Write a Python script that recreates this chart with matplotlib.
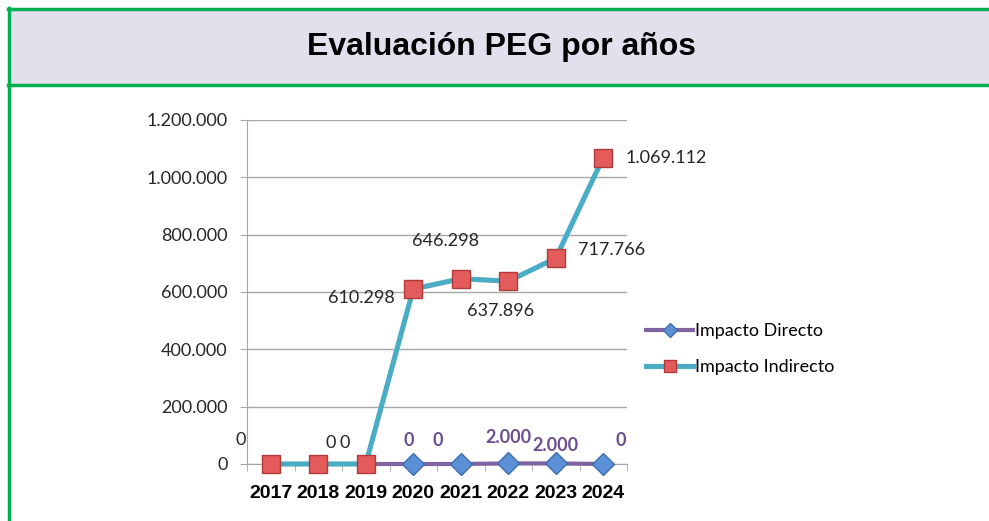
import matplotlib
matplotlib.use('Agg')
from matplotlib import pyplot as plt
from matplotlib.patches import Rectangle
from matplotlib.lines import Line2D

# data
years = ['2017', '2018', '2019', '2020', '2021', '2022', '2023', '2024']
directo_years = [2, 3, 4, 5, 6, 7]       # 2019 point sits under the red square
directo = [0, 0, 0, 2000, 2000, 0]
indirecto = [0, 0, 0, 610298, 646298, 637896, 717766, 1069112]
indirecto_labels = ['0', '0', '0', '610.298', '646.298', '637.896', '717.766', '1.069.112']
directo_labels = ['0', '0', '2.000', '2.000', '0']
yticks = [0, 200000, 400000, 600000, 800000, 1000000, 1200000]
ytick_labels = ['0', '200.000', '400.000', '600.000', '800.000', '1.000.000', '1.200.000']

W, H = 989, 521
fig = plt.figure(figsize=(W / 100, H / 100), dpi=100)

# title band and green frame
green = '#00B050'
fig.patches.append(Rectangle((8 / W, 1 - 85 / H), 1, 77 / H, transform=fig.transFigure,
                             facecolor='#E4DFEC', edgecolor='none'))
fig.add_artist(Line2D([8 / W, 1], [1 - 9 / H, 1 - 9 / H], color=green, lw=2.5))
fig.add_artist(Line2D([8 / W, 1], [1 - 85 / H, 1 - 85 / H], color=green, lw=2.5))
fig.add_artist(Line2D([9 / W, 9 / W], [0, 1 - 8 / H], color=green, lw=2.5))
fig.text(502 / W, 1 - 47 / H, 'Evaluación PEG por años', ha='center', va='center',
         fontsize=23, fontweight='bold', family='Liberation Sans')

ax = fig.add_axes([247 / W, 1 - 464 / H, 380 / W, 344 / H])
ax.set_xlim(-0.5, 7.5)
ax.set_ylim(0, 1200000)

x_all = list(range(len(years)))
ax.plot(directo_years, directo, color='#8064A2', lw=3, marker='D', ms=11.5,
        markevery=list(range(1, len(directo))),
        markerfacecolor='#5B8FD6', markeredgecolor='#3E6FB0', mew=1, zorder=3,
        clip_on=False, label='Impacto Directo')
ax.plot(x_all, indirecto, color='#4BACC6', lw=3.7, marker='s', ms=13.5,
        markerfacecolor='#E35B5B', markeredgecolor='#B03A3A', mew=1, zorder=4,
        clip_on=False, label='Impacto Indirecto')

# data labels (offsets in pixels)
ind_off = [(-30, 24), (12, 21), (-21, 21), (-52, -9), (-15, 38), (-8, -30), (56, 8), (63, 0)]
for xi, v, lab, off in zip(x_all, indirecto, indirecto_labels, ind_off):
    ax.annotate(lab, (xi, v), xytext=off, textcoords='offset pixels', ha='center',
                va='center', fontsize=13, color='#262626', family='Lato', zorder=5)
dir_off = [(-4, 23), (-23, 23), (0, 26), (0, 18), (17, 23)]
for xi, v, lab, off in zip(directo_years[1:], directo[1:], directo_labels, dir_off):
    ax.annotate(lab, (xi, v), xytext=off, textcoords='offset pixels', ha='center',
                va='center', fontsize=13, color='#6B4F8E', fontweight='bold',
                family='Lato', zorder=5)

ax.set_yticks(yticks)
ax.set_yticklabels(ytick_labels, fontsize=13, family='Lato', color='#262626')
ax.set_xticks(x_all)
ax.set_xticklabels(years, fontsize=14, fontweight='bold', family='Liberation Sans')
ax.set_xticks([i - 0.5 for i in range(len(years) + 1)], minor=True)
ax.tick_params(axis='x', which='major', length=0, pad=15)
ax.tick_params(axis='x', which='minor', length=5, color='#A6A6A6')
ax.tick_params(axis='y', length=5, color='#A6A6A6', pad=9)
ax.grid(axis='y', color='#A6A6A6', lw=1)
ax.set_axisbelow(True)
for s in ['top', 'right']:
    ax.spines[s].set_visible(False)
for s in ['left', 'bottom']:
    ax.spines[s].set_color('#A6A6A6')

fig.legend(loc='center left', bbox_to_anchor=(630 / W, 1 - 349 / H), frameon=False,
           prop={'family': 'Lato', 'size': 13}, handlelength=2.6, handletextpad=0.1,
           labelspacing=1.1, markerscale=0.65)

fig.savefig('out.png', dpi=100)
